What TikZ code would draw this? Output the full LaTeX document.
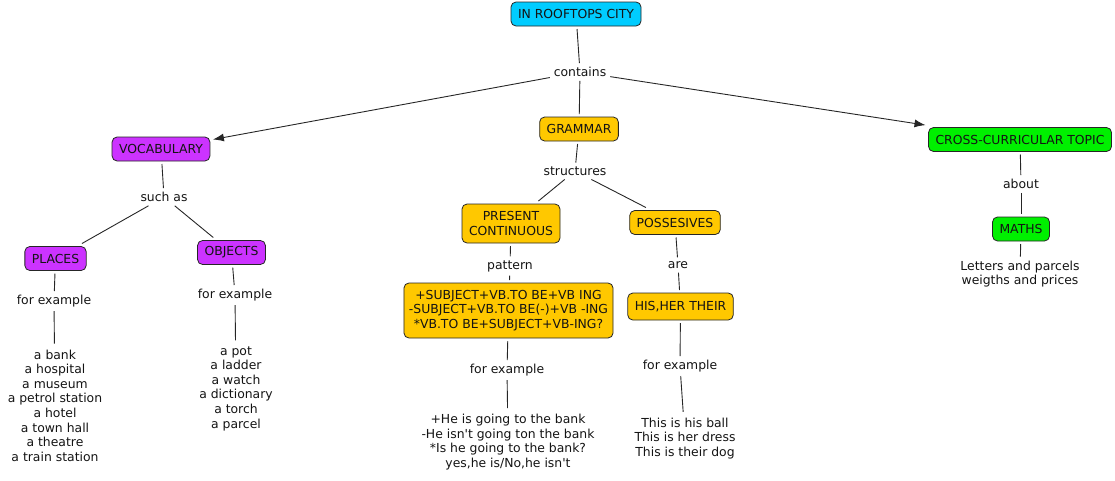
\documentclass[tikz,border=0pt]{standalone}
\usepackage{fontspec}
\setmainfont{DejaVu Sans}[Ligatures=TeXOff]
\usetikzlibrary{arrows.meta}
\definecolor{cyanbox}{RGB}{0,204,255}
\definecolor{orangebox}{RGB}{255,200,0}
\definecolor{purplebox}{RGB}{204,51,255}
\definecolor{greenbox}{RGB}{0,240,0}
\definecolor{txt}{RGB}{20,20,20}
\tikzset{
  box/.style={draw=black!85, line width=0.8pt, rounded corners=5pt, inner xsep=7pt, minimum height=24pt, align=center, outer sep=3pt, text=txt},
  cyanb/.style={box, fill=cyanbox},
  orangeb/.style={box, fill=orangebox},
  purpleb/.style={box, fill=purplebox},
  greenb/.style={box, fill=greenbox},
  lbl/.style={inner sep=1pt, outer sep=3pt, text=txt},
  list/.style={inner sep=1pt, outer sep=5pt, align=center, text=txt},
  conn/.style={draw=black!85, line width=0.9pt},
  arr/.style={conn, -{Latex[length=11pt,width=8pt]}}
}
\begin{document}
\begin{tikzpicture}[x=1pt,y=-1pt, font=\fontsize{12.4}{14.6}\selectfont]
\useasboundingbox (0,0) rectangle (1115,480);
\node[cyanb] (top) at (576,14) {IN ROOFTOPS CITY};
\node[lbl] (contains) at (580,72) {contains};
\node[orangeb] (grammar) at (579,129) {GRAMMAR};
\node[purpleb] (vocab) at (161,149) {VOCABULARY};
\node[greenb] (cross) at (1020,139.5) {CROSS-CURRICULAR TOPIC};
\node[lbl] (structures) at (575,171) {structures};
\node[orangeb, minimum height=39pt] (present) at (511,223.5) {PRESENT\\CONTINUOUS};
\node[orangeb] (poss) at (675,222.5) {POSSESIVES};
\node[lbl] (pattern) at (510,266) {pattern};
\node[orangeb, minimum height=55pt, inner xsep=5pt] (patbox) at (508.5,310.5) {+SUBJECT+VB.TO BE+VB ING\\-SUBJECT+VB.TO BE(-)+VB -ING\\*VB.TO BE+SUBJECT+VB-ING?};
\node[lbl] (are) at (678,265) {are};
\node[orangeb, minimum height=27pt] (his) at (680.5,306.5) {HIS,HER THEIR};
\node[lbl] (fe1) at (507,370) {for example};
\node[lbl] (fe2) at (680,366) {for example};
\node[list] (sent) at (508,442) {+He is going to the bank\\-He isn't going ton the bank\\*Is he going to the bank?\\yes,he is/No,he isn't};
\node[list] (possex) at (685,438.5) {This is his ball\\This is her dress\\This is their dog};
\node[lbl] (suchas) at (164,197) {such as};
\node[purpleb] (places) at (55.5,258.5) {PLACES};
\node[purpleb] (objects) at (231.5,252.5) {OBJECTS};
\node[lbl] (fe3) at (54,301) {for example};
\node[lbl] (fe4) at (235,295) {for example};
\node[list] (plist) at (55,405.5) {a bank\\a hospital\\a museum\\a petrol station\\a hotel\\a town hall\\a theatre\\a train station};
\node[list] (olist) at (236,388.5) {a pot\\a ladder\\a watch\\a dictionary\\a torch\\a parcel};
\node[lbl] (about) at (1021,184) {about};
\node[greenb] (maths) at (1021,229) {MATHS};
\node[list, outer sep=3pt] (mlist) at (1020,274) {Letters and parcels\\weigths and prices};
\draw[conn] (top) -- (contains);
\draw[arr] (contains) -- (vocab);
\draw[conn] (contains) -- (grammar);
\draw[arr] (contains) -- (cross);
\draw[conn] (grammar) -- (structures);
\draw[conn] (structures) -- (present);
\draw[conn] (structures) -- (poss);
\draw[conn] (present) -- (pattern);
\draw[conn] (pattern) -- (patbox);
\draw[conn] (patbox) -- (fe1);
\draw[conn] (fe1) -- (sent);
\draw[conn] (poss) -- (are);
\draw[conn] (are) -- (his);
\draw[conn] (his) -- (fe2);
\draw[conn] (fe2) -- (possex);
\draw[conn] (vocab) -- (suchas);
\draw[conn] (suchas) -- (places);
\draw[conn] (suchas) -- (objects);
\draw[conn] (places) -- (fe3);
\draw[conn] (fe3) -- (plist);
\draw[conn] (objects) -- (fe4);
\draw[conn] (fe4) -- (olist);
\draw[conn] (cross) -- (about);
\draw[conn] (about) -- (maths);
\draw[conn] (maths) -- (mlist);
\end{tikzpicture}
\end{document}
